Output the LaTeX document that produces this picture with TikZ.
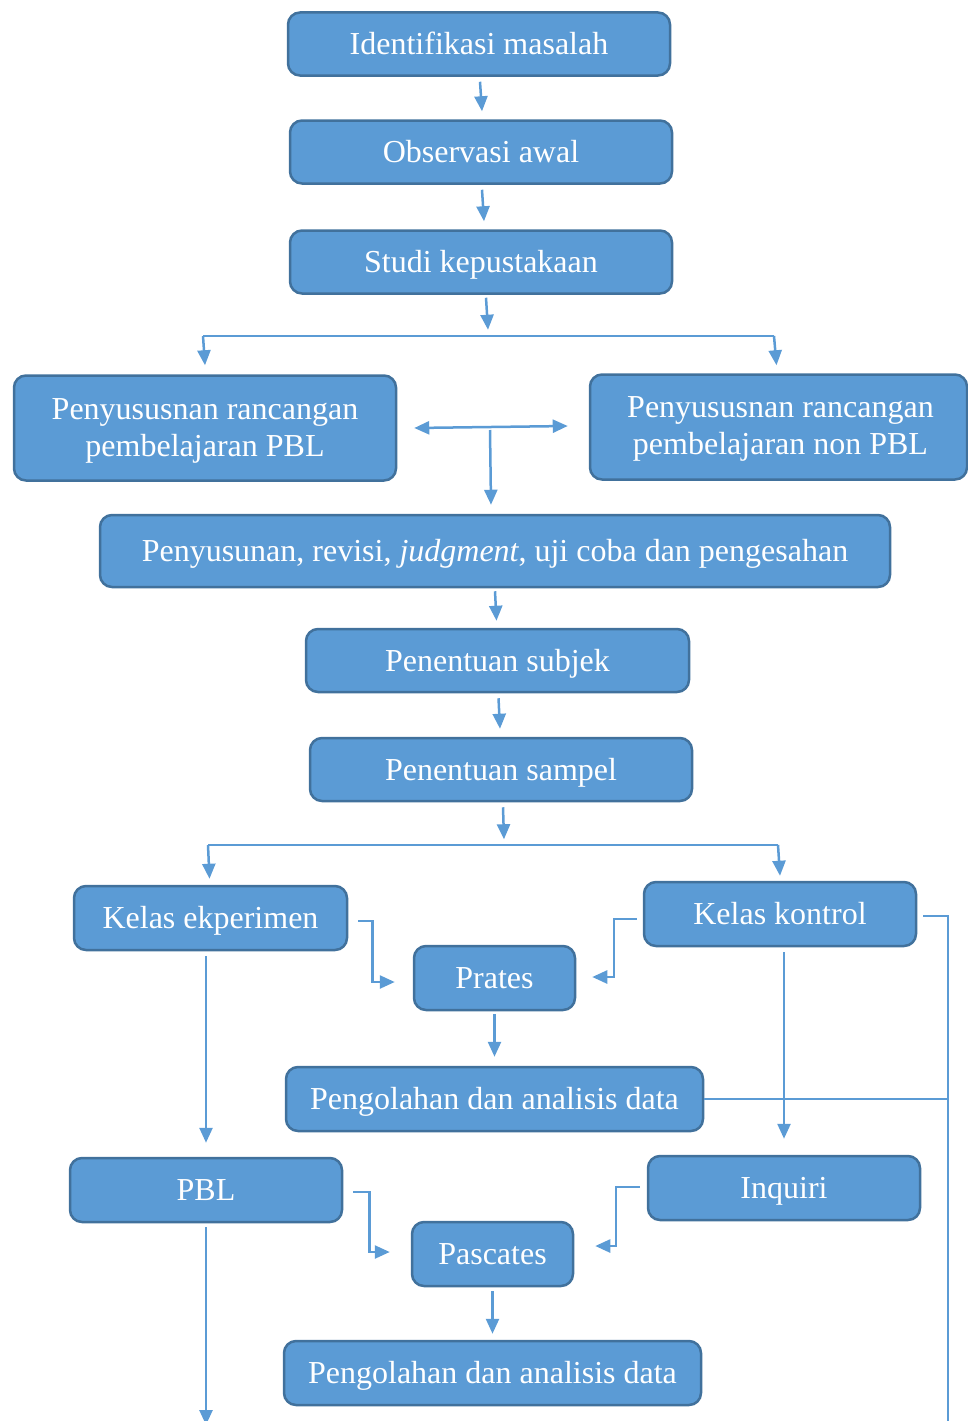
\documentclass[tikz,border=0pt]{standalone}
\usepackage{fontspec}
\setmainfont{Liberation Serif}
\usetikzlibrary{arrows.meta,calc}
\definecolor{boxfill}{RGB}{91,155,213}
\definecolor{boxline}{RGB}{65,113,156}
\definecolor{arrowcol}{RGB}{91,155,213}
\tikzset{
  box/.style={draw=boxline, fill=boxfill, line width=2.5pt, rounded corners=12pt,
    text=white, font=\fontsize{32}{37}\selectfont, align=center, inner sep=0pt,
    text height=28.5pt, text depth=6.9pt},
  boxtext/.style={text=white, font=\fontsize{32}{37}\selectfont, align=center, inner sep=0pt},
  arr/.style={draw=arrowcol, line width=2.5pt, -{Triangle[length=15pt,width=13pt]}},
  dbl/.style={draw=arrowcol, line width=2.5pt, {Triangle[length=15pt,width=13pt]}-{Triangle[length=15pt,width=13pt]}},
  thinline/.style={draw=arrowcol, line width=1.3pt},
}
\begin{document}
\begin{tikzpicture}[x=1pt,y=-1pt]
\useasboundingbox (0,0) rectangle (967,1421);
% boxes
\node[box, minimum width=382pt, minimum height=63pt] (id) at (479,44) {Identifikasi masalah};
\node[box, minimum width=382pt, minimum height=63pt] (ob) at (481,152) {Observasi awal};
\node[box, minimum width=382pt, minimum height=63pt] (st) at (481,262) {Studi kepustakaan};
\node[box, minimum width=382pt, minimum height=105pt] (p1) at (205,428) {};
\node[boxtext] (p1t) at ($(p1.center)+(0,3)$) {Penyususnan rancangan\\pembelajaran PBL};
\node[box, minimum width=377pt, minimum height=105pt] (p2) at (778.5,427) {};
\node[boxtext] (p2t) at ($(p2.center)+(2,2)$) {Penyususnan rancangan\\pembelajaran non PBL};
\node[box, minimum width=790pt, minimum height=72pt] (rv) at (495,551) {Penyusunan, revisi, \textit{judgment}, uji coba dan pengesahan};
\node[box, minimum width=383pt, minimum height=63pt] (su) at (497.5,660.5) {Penentuan subjek};
\node[box, minimum width=382pt, minimum height=63pt] (sa) at (501,769.5) {Penentuan sampel};
\node[box, minimum width=273pt, minimum height=64pt] (ke) at (210.5,918) {Kelas ekperimen};
\node[box, minimum width=272pt, minimum height=64pt] (kk) at (780,914) {Kelas kontrol};
\node[box, minimum width=161pt, minimum height=64pt] (pr) at (494.5,978) {Prates};
\node[box, minimum width=417pt, minimum height=64pt] (g1) at (494.5,1099) {Pengolahan dan analisis data};
\node[box, minimum width=272pt, minimum height=64pt] (pbl) at (206,1190) {PBL};
\node[box, minimum width=272pt, minimum height=64pt] (iq) at (784,1188) {Inquiri};
\node[box, minimum width=161pt, minimum height=64pt] (pa) at (492.5,1254) {Pascates};
\node[box, minimum width=417pt, minimum height=64pt] (g2) at (492.5,1373) {Pengolahan dan analisis data};
% straight arrows
\draw[arr] ($(id.south)+(1,5)$) -- ($(ob.north)+(1,-8)$);
\draw[arr] ($(ob.south)+(1,5)$) -- ($(st.north)+(3,-8)$);
% branch 1
\coordinate (b1L) at (203,336);
\coordinate (b1R) at (774,336);
\draw[arr] ($(st.south)+(5,3)$) -- ($(st.south)+(7,35)$);
\draw[thinline] (b1L) -- (b1R);
\draw[arr] (b1L) -- ($(p1.north)+(0,-9)$);
\draw[arr] (b1R) -- ($(p2.north)+(-2,-8)$);
% double arrow and down arrow
\draw[dbl] ($(p1.east)+(17,0)$) -- ($(p2.west)+(-21,-1)$);
\coordinate (mid) at (490,430);
\draw[arr] (mid) -- ($(rv.north)+(-4,-9)$);
\draw[arr] ($(rv.south)+(0,3)$) -- ($(su.north)+(-1,-7)$);
\draw[arr] ($(su.south)+(1,5)$) -- ($(sa.north)+(-1,-8)$);
% branch 2
\coordinate (b2L) at (208,845);
\coordinate (b2R) at (778,845);
\draw[arr] ($(sa.south)+(2,5)$) -- ($(sa.south)+(3,37)$);
\draw[thinline] (b2L) -- (b2R);
\draw[arr] (b2L) -- ($(ke.north)+(-1,-6)$);
\draw[arr] (b2R) -- ($(kk.north)+(0,-5)$);
% elbows to Prates
\draw[arr] ($(ke.east)+(10,3)$) -- ++(14,0) |- ($(pr.west)+(-18,4)$);
\draw[arr] ($(kk.west)+(-6,5)$) -- ++(-23,0) |- ($(pr.east)+(16,-1)$);
\draw[arr] ($(pr.south)+(0,3)$) -- ($(g1.north)+(0,-9)$);
% long down arrows
\draw[arr] ($(ke.south)+(-4.5,5)$) -- ($(pbl.north)+(0,-14)$);
\draw[arr] ($(kk.south)+(4,5)$) -- ($(iq.north)+(0,-16)$);
% elbows to Pascates
\draw[arr] ($(pbl.east)+(10,2)$) -- ++(16,0) |- ($(pa.west)+(-21,-2)$);
\draw[arr] ($(iq.west)+(-7,-1)$) -- ++(-24,0) |- ($(pa.east)+(21,-8)$);
\draw[arr] ($(pa.south)+(0,4)$) -- ($(g2.north)+(0,-6)$);
% PBL down
\coordinate (pblend) at (206,1425);
\draw[arr] ($(pbl.south)+(0,4)$) -- (pblend);
% right side thin lines
\coordinate (r1) at (948,916);
\coordinate (rb) at (948,1421);
\draw[thinline] ($(kk.east)+(6,2)$) -- (r1) -- (rb);
\draw[thinline] (g1.east) -- (g1.east -| r1);
\draw[thinline] ($(g2.east)+(0,2)$) -- ($(g2.east)+(0,2)$ -| r1);
\end{tikzpicture}
\end{document}
